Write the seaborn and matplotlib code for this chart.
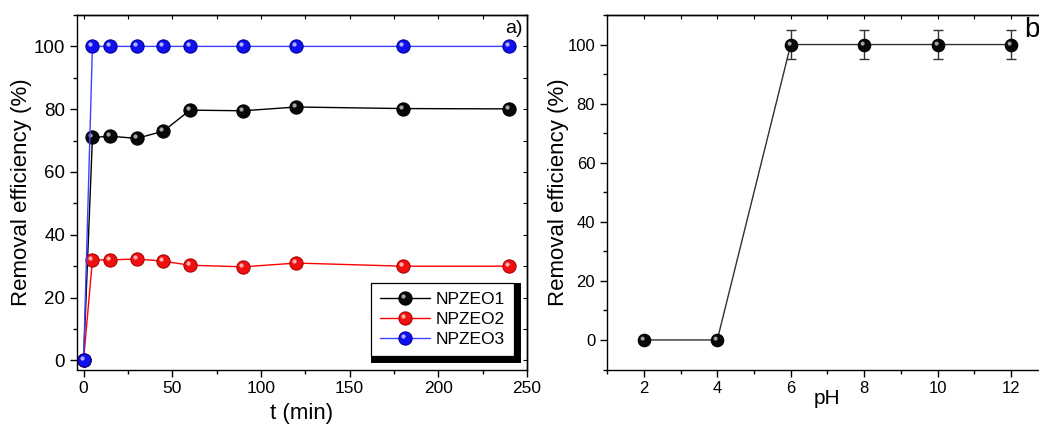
import numpy as np
import pandas as pd
import matplotlib
matplotlib.use("Agg")
import matplotlib.pyplot as plt
from matplotlib.path import Path
from matplotlib.legend_handler import HandlerTuple
from matplotlib.ticker import MultipleLocator
import seaborn as sns

# ---------------- data ----------------
t_min = [0, 5, 15, 30, 45, 60, 90, 120, 180, 240]
npzeo1 = [0, 71.0, 71.4, 70.7, 73.0, 79.7, 79.5, 80.7, 80.2, 80.1]
npzeo2 = [0, 32.0, 32.0, 32.3, 31.6, 30.3, 29.8, 31.0, 30.0, 30.0]
npzeo3 = [0, 100, 100, 100, 100, 100, 100, 100, 100, 100]
series_names = ["NPZEO1", "NPZEO2", "NPZEO3"]

ph = [2, 4, 6, 8, 10, 12]
ph_eff = [0, 0, 100, 100, 100, 100]
ph_err = [0, 0, 5, 5, 5, 5]

# ---------------- style ----------------
sns.set_style("ticks")
plt.rcParams["font.family"] = ["Liberation Sans", "DejaVu Sans"]
plt.rcParams["axes.linewidth"] = 1.0
for k in ("text.color", "axes.labelcolor", "xtick.color", "ytick.color",
          "xtick.labelcolor", "ytick.labelcolor", "axes.edgecolor"):
    plt.rcParams[k] = "black"

fig = plt.figure(figsize=(10.39, 4.28), dpi=100)
W, H = 1039, 428
axL = fig.add_axes([77 / W, 1 - 369.5 / H, (527 - 77) / W, (369.5 - 15) / H])
axR = fig.add_axes([607 / W, 1 - 369.5 / H, (1048 - 607) / W, (369.5 - 15) / H])

# highlight marker (sphere look): small circle offset toward upper-left
_c = Path.circle((-0.30, 0.30), 0.32)
hl_marker = Path(np.vstack([[[-1, -1], [1, 1]], _c.vertices]),
                 [Path.MOVETO, Path.MOVETO] + list(_c.codes))

styles = [
    dict(line="#000000", face="#080808", edge="#000000", hl=(0.85, 0.85, 0.85, 0.75)),
    dict(line="#ff0000", face="#f01010", edge="#b00000", hl=(1, 0.85, 0.85, 0.8)),
    dict(line="#4040ff", face="#1010f0", edge="#0000a0", hl=(0.85, 0.85, 1, 0.8)),
]
ms = 9.5
handles = []
for name, vals, st in zip(series_names, [npzeo1, npzeo2, npzeo3], styles):
    df = pd.DataFrame({"t": t_min, "eff": vals})
    sns.lineplot(data=df, x="t", y="eff", ax=axL, color=st["line"], lw=1.0,
                 marker="o", markersize=ms, markerfacecolor=st["face"],
                 markeredgecolor=st["edge"], markeredgewidth=0.8, label=name,
                 legend=False)
    ln = axL.lines[-1]
    hl, = axL.plot(t_min, vals, ls="none", marker=hl_marker, markersize=ms,
                   markerfacecolor=st["hl"], markeredgecolor="none")
    handles.append((ln, hl))

axL.set_xlim(-3.7, 250)
axL.set_ylim(-2.9, 110)
axL.xaxis.set_major_locator(MultipleLocator(50))
axL.xaxis.set_minor_locator(MultipleLocator(25))
axL.yaxis.set_major_locator(MultipleLocator(20))
axL.yaxis.set_minor_locator(MultipleLocator(10))
axL.set_xlabel("t (min)", fontsize=16, labelpad=5)
axL.set_ylabel("Removal efficiency (%)", fontsize=16, labelpad=1)
axL.tick_params(axis="y", labelsize=13.5)
axL.tick_params(axis="x", labelsize=12.5)
axL.text(0.991, 0.985, "a)", transform=axL.transAxes, ha="right", va="top",
         fontsize=14)

leg = axL.legend(handles, series_names, handler_map={tuple: HandlerTuple(ndivide=1, pad=0)},
                 loc="lower right", bbox_to_anchor=(0.971, 0.038), borderaxespad=0,
                 fontsize=12.5, frameon=True, fancybox=False, handlelength=2.9,
                 labelspacing=0.28, borderpad=0.5, handletextpad=0.35,
                 shadow={"color": "black", "alpha": 1, "linewidth": 5,
                         "edgecolor": "black"})
leg.get_frame().set_edgecolor("black")
leg.get_frame().set_linewidth(0.9)

# ---------------- right panel ----------------
axR.errorbar(ph, ph_eff, yerr=ph_err, fmt="none", ecolor="#333333",
             elinewidth=1.0, capsize=3.5, capthick=1.0, zorder=1)
dfr = pd.DataFrame({"pH": ph, "eff": ph_eff})
sns.lineplot(data=dfr, x="pH", y="eff", ax=axR, color="#303030", lw=1.0,
             marker="o", markersize=9, markerfacecolor="#080808",
             markeredgecolor="#000000", markeredgewidth=0.8, zorder=3)
axR.plot(ph, ph_eff, ls="none", marker=hl_marker, markersize=9,
         markerfacecolor=(0.85, 0.85, 0.85, 0.75), markeredgecolor="none", zorder=4)
axR.set_xlim(1, 13)
axR.set_ylim(-10, 110)
axR.xaxis.set_major_locator(MultipleLocator(2))
axR.xaxis.set_minor_locator(MultipleLocator(1))
axR.yaxis.set_major_locator(MultipleLocator(20))
axR.yaxis.set_minor_locator(MultipleLocator(10))
axR.set_xlabel("pH", fontsize=15, labelpad=-5)
axR.set_ylabel("Removal efficiency (%)", fontsize=16, labelpad=-1)
axR.tick_params(axis="both", labelsize=12)
fig.text(1024 / W, 1 - 17 / H, "b", ha="left", va="top", fontsize=20)

for ax in (axL, axR):
    ax.tick_params(which="major", direction="out", length=5, width=1, color="black")
    ax.tick_params(which="minor", direction="out", length=3, width=1, color="black")
    for s in ax.spines.values():
        s.set_visible(True)
        s.set_color("black")
    sx = ax.secondary_xaxis("top")
    sx.xaxis.set_major_locator(ax.xaxis.get_major_locator())
    sx.xaxis.set_minor_locator(ax.xaxis.get_minor_locator())
    sx.tick_params(which="both", direction="in", labeltop=False, length=3, width=0.8)
    sy = ax.secondary_yaxis("right")
    sy.yaxis.set_major_locator(ax.yaxis.get_major_locator())
    sy.yaxis.set_minor_locator(ax.yaxis.get_minor_locator())
    sy.tick_params(which="both", direction="in", labelright=False, length=3, width=0.8)

fig.savefig("out.png", dpi=100)
